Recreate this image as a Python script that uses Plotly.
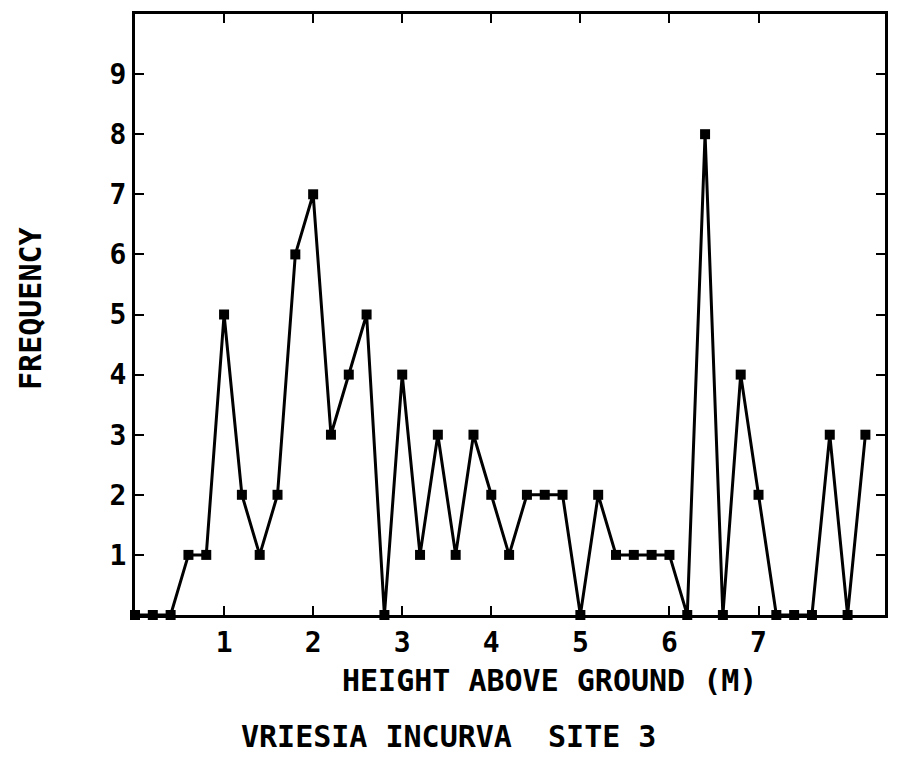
import plotly.graph_objects as go

# Height classes (m) and number of plants recorded in each
heights = [round(0.2 * i, 1) for i in range(42)]
frequency = [0, 0, 0, 1, 1, 5, 2, 1, 2, 6, 7, 3, 4, 5, 0, 4, 1, 3, 1, 3, 2,
             1, 2, 2, 2, 0, 2, 1, 1, 1, 1, 0, 8, 0, 4, 2, 0, 0, 0, 3, 0, 3]

x_ticks = [1, 2, 3, 4, 5, 6, 7]
y_ticks = [1, 2, 3, 4, 5, 6, 7, 8, 9]

FONT = "DejaVu Sans Mono"

fig = go.Figure()
fig.add_trace(go.Scatter(
    x=heights, y=frequency, mode="lines+markers",
    line=dict(color="black", width=3),
    marker=dict(symbol="square", size=10, color="black"),
    cliponaxis=False, showlegend=False,
))

axis_common = dict(
    showgrid=False, zeroline=False, showline=True, linecolor="black",
    linewidth=3, mirror="ticks", ticks="inside", ticklen=9, tickwidth=2,
    tickcolor="black",
    tickfont=dict(family=FONT, size=28, color="black", weight="bold"),
)

fig.update_layout(
    width=899, height=759,
    margin=dict(l=135, r=11, t=11, b=144),
    paper_bgcolor="white", plot_bgcolor="white",
    xaxis=dict(range=[0, 8.42], tickvals=x_ticks,
               ticktext=[str(v) for v in x_ticks], **axis_common),
    yaxis=dict(range=[0, 10], tickvals=y_ticks,
               ticktext=[str(v) for v in y_ticks], **axis_common),
    annotations=[
        dict(text="HEIGHT ABOVE GROUND (M)", xref="paper", yref="paper",
             x=(551 - 135) / 753, y=-(681 - 615) / 604, showarrow=False,
             xanchor="center", yanchor="middle",
             font=dict(family=FONT, size=30, color="black", weight="bold")),
        dict(text="VRIESIA INCURVA  SITE 3", xref="paper", yref="paper",
             x=(450 - 135) / 753, y=-(737 - 615) / 604, showarrow=False,
             xanchor="center", yanchor="middle",
             font=dict(family=FONT, size=30, color="black", weight="bold")),
        dict(text="FREQUENCY", xref="paper", yref="paper",
             x=-(135 - 30) / 753, y=(615 - 307) / 604, showarrow=False,
             textangle=-90, xanchor="center", yanchor="middle",
             font=dict(family=FONT, size=30, color="black", weight="bold")),
    ],
)

fig.write_html("out.html")
